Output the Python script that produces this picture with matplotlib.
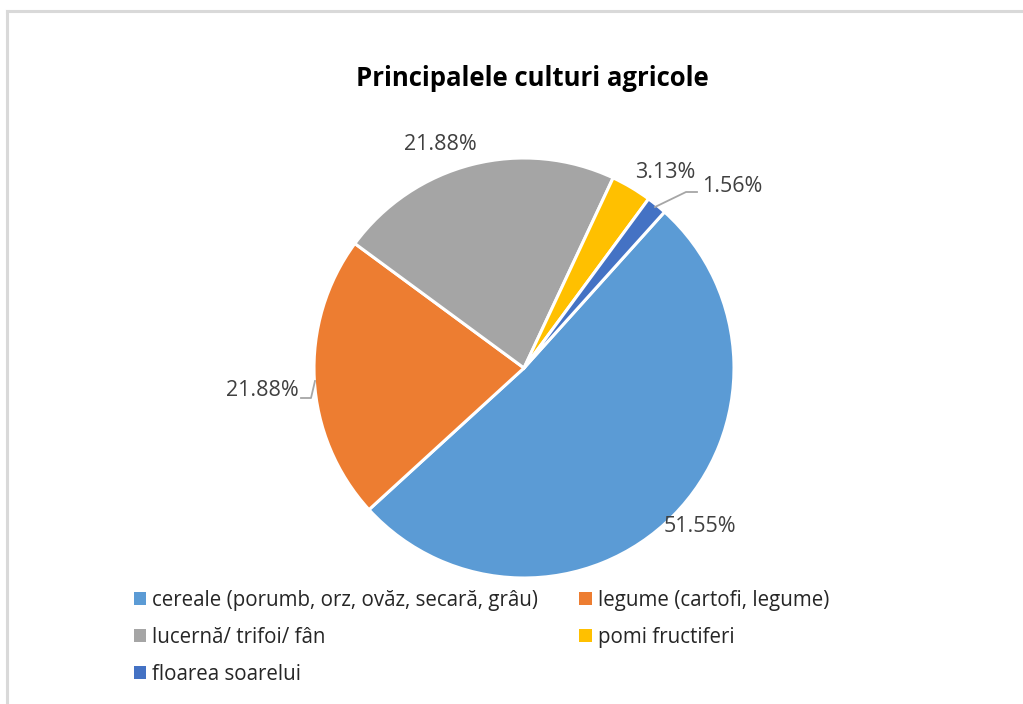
import matplotlib
matplotlib.use("Agg")
import matplotlib.pyplot as plt
from matplotlib.lines import Line2D
from matplotlib.patches import Patch

title = "Principalele culturi agricole"
categories = ["cereale (porumb, orz, ovăz, secară, grâu)",
              "legume (cartofi, legume)",
              "lucernă/ trifoi/ fân",
              "pomi fructiferi",
              "floarea soarelui"]
values = [51.55, 21.88, 21.88, 3.13, 1.56]
colors = ["#5B9BD5", "#ED7D31", "#A5A5A5", "#FFC000", "#4472C4"]

plt.rcParams['font.family'] = ['Open Sans', 'DejaVu Sans']

W, H = 1023, 704
fig = plt.figure(figsize=(W / 100, H / 100), dpi=100)

# border (top and left)
fig.add_artist(Line2D([7 / W, 1], [1 - 11 / H, 1 - 11 / H], color="#D9D9D9", lw=2.2))
fig.add_artist(Line2D([7 / W, 7 / W], [0, 1 - 11 / H], color="#D9D9D9", lw=2.2))

cx, cy, R = 524, 368, 210
ax = fig.add_axes([(cx - R) / W, (H - cy - R) / H, 2 * R / W, 2 * R / H])
wedges, _ = ax.pie(values, colors=colors, startangle=48, counterclock=False,
                   radius=1, wedgeprops=dict(edgecolor="white", linewidth=2.2))
ax.set_xlim(-1, 1)
ax.set_ylim(-1, 1)
ax.set_aspect("auto")
ax.axis("off")

def px(x, y):
    return ((x - cx) / R, (cy - y) / R)

lab_col = "#404040"
fs_lab = 15.5
labels = [f"{v:.2f}%" for v in values]
# label positions (pixel-based placement)
lab_pos = [((700, 526), "center"), ((299, 390), "right"), ((440, 145), "center"),
           ((665, 172), "center"), ((702, 187), "left")]
for lab, ((x, y), ha) in zip(labels, lab_pos):
    tx, ty = px(x, y)
    ax.text(tx, ty, lab, ha=ha, va="center", fontsize=fs_lab, color=lab_col,
            clip_on=False)

# leader lines
for pts in ([(315, 381), (311, 398), (301, 398)],
            [(655, 207), (686, 192), (697, 192)]):
    xs, ys = zip(*[px(x, y) for x, y in pts])
    ax.add_line(Line2D(xs, ys, color="#A6A6A6", lw=1.3, clip_on=False))

fig.text(532 / W, 1 - 78 / H, title, ha="center", va="center",
         fontsize=18.5, fontweight="bold", color="black")

handles = [Patch(facecolor=c, edgecolor="none") for c in colors]
order = [0, 2, 4, 1, 3]
leg = fig.legend([handles[i] for i in order], [categories[i] for i in order],
                 ncol=2, loc="upper left", bbox_to_anchor=(134 / W, 1 - 590 / H),
                 frameon=False, fontsize=14.8, handlelength=0.6, handleheight=0.6,
                 handletextpad=0.3, labelspacing=0.78, columnspacing=2.0,
                 borderaxespad=0, borderpad=0)
for t in leg.get_texts():
    t.set_color("#262626")

fig.savefig("out.png", dpi=100, facecolor="white")
